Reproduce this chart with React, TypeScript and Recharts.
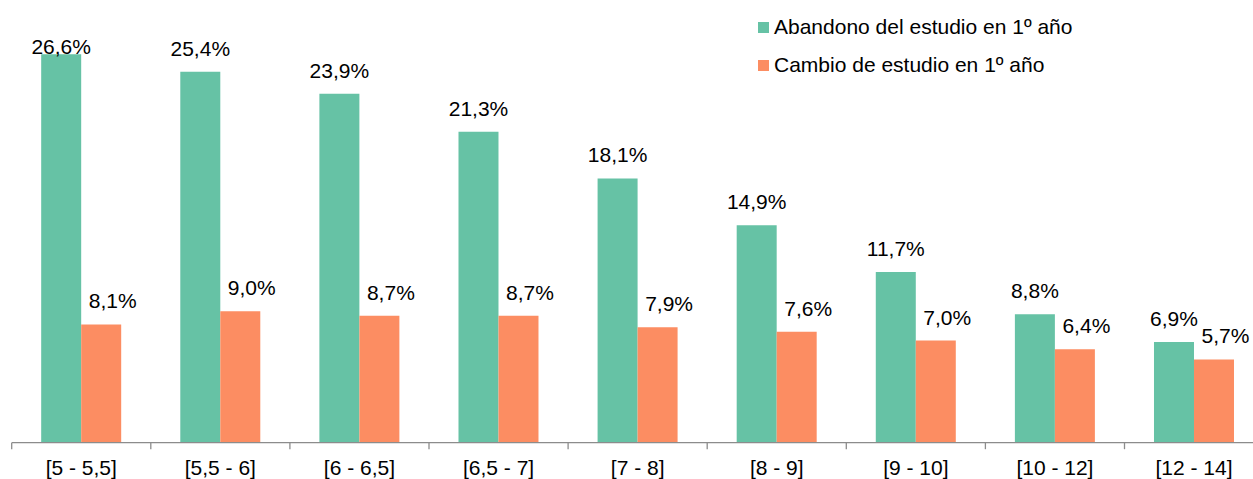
import { BarChart, Bar, XAxis, YAxis, Legend, LabelList } from 'recharts';

const categories = ['[5 - 5,5]', '[5,5 - 6]', '[6 - 6,5]', '[6,5 - 7]', '[7 - 8]', '[8 - 9]', '[9 - 10]', '[10 - 12]', '[12 - 14]'];
const abandono = [26.6, 25.4, 23.9, 21.3, 18.1, 14.9, 11.7, 8.8, 6.9];
const cambio = [8.1, 9.0, 8.7, 8.7, 7.9, 7.6, 7.0, 6.4, 5.7];
const seriesNames = ['Abandono del estudio en 1º año', 'Cambio de estudio en 1º año'];

const GREEN = '#66C2A5';
const ORANGE = '#FC8D62';
const FONT = '"Liberation Sans", Arial, sans-serif';

const data = categories.map((cat, i) => ({ cat, a: abandono[i], c: cambio[i] }));

const CHART_W = 1270;
const CHART_H = 479;
const AXIS_H = 36.3;
const MARGIN = { top: 33.9, right: 6.4, left: 11.7, bottom: 0 };
const BAND = (CHART_W - MARGIN.left - MARGIN.right) / categories.length;
const AXIS_Y = CHART_H - MARGIN.bottom - AXIS_H;

const fmt = (v: number) => v.toFixed(1).replace('.', ',') + '%';

// tick marks sit on category boundaries, not centers
const renderTick = (props: any) => {
  const { x, payload } = props;
  const left = x - BAND / 2;
  return (
    <g>
      <line x1={left} y1={AXIS_Y} x2={left} y2={AXIS_Y + 6.5} stroke="#8c8c8c" strokeWidth={1.3} />
      <text x={x} y={AXIS_Y + 32} textAnchor="middle" fontSize={21} fontFamily={FONT} fill="#000">
        {payload.value}
      </text>
    </g>
  );
};

const makeLabel = (dx: number) => (props: any) => {
  const { x, y, width, value } = props;
  // keep label inside the top of the plot, like the original
  const ty = Math.max(y - 16, 54);
  return (
    <text x={x + width / 2 + dx} y={ty} textAnchor="middle" fontSize={21} fontFamily={FONT} fill="#000">
      {fmt(Number(value))}
    </text>
  );
};

const renderLegend = () => (
  <div style={{ fontFamily: FONT, fontSize: 21, color: '#000' }}>
    {[GREEN, ORANGE].map((col, i) => (
      <div key={i} style={{ display: 'flex', alignItems: 'center', height: 38, whiteSpace: 'nowrap' }}>
        <span style={{ display: 'inline-block', width: 11, height: 11, background: col, marginRight: 5 }} />
        <span>{seriesNames[i]}</span>
      </div>
    ))}
  </div>
);

export default function App() {
  return (
    <div style={{ position: 'absolute', left: 0, top: 0, width: 1253, height: CHART_H, overflow: 'hidden', background: '#fff' }}>
      <BarChart width={CHART_W} height={CHART_H} data={data} margin={MARGIN} barGap={0} barCategoryGap="21.2%">
        <XAxis
          dataKey="cat"
          height={AXIS_H}
          interval={0}
          tickLine={false}
          axisLine={{ stroke: '#8c8c8c', strokeWidth: 1.3 }}
          tick={renderTick}
        />
        <YAxis hide domain={[0, 28]} />
        <Legend
          layout="horizontal"
          verticalAlign="middle"
          align="center"
          content={renderLegend}
          wrapperStyle={{ top: 8.3, left: 758, width: 'auto' }}
        />
        <Bar dataKey="a" name={seriesNames[0]} fill={GREEN} isAnimationActive={false}>
          <LabelList dataKey="a" content={makeLabel(0)} />
        </Bar>
        <Bar dataKey="c" name={seriesNames[1]} fill={ORANGE} isAnimationActive={false}>
          <LabelList dataKey="c" content={makeLabel(11.5)} />
        </Bar>
      </BarChart>
    </div>
  );
}
